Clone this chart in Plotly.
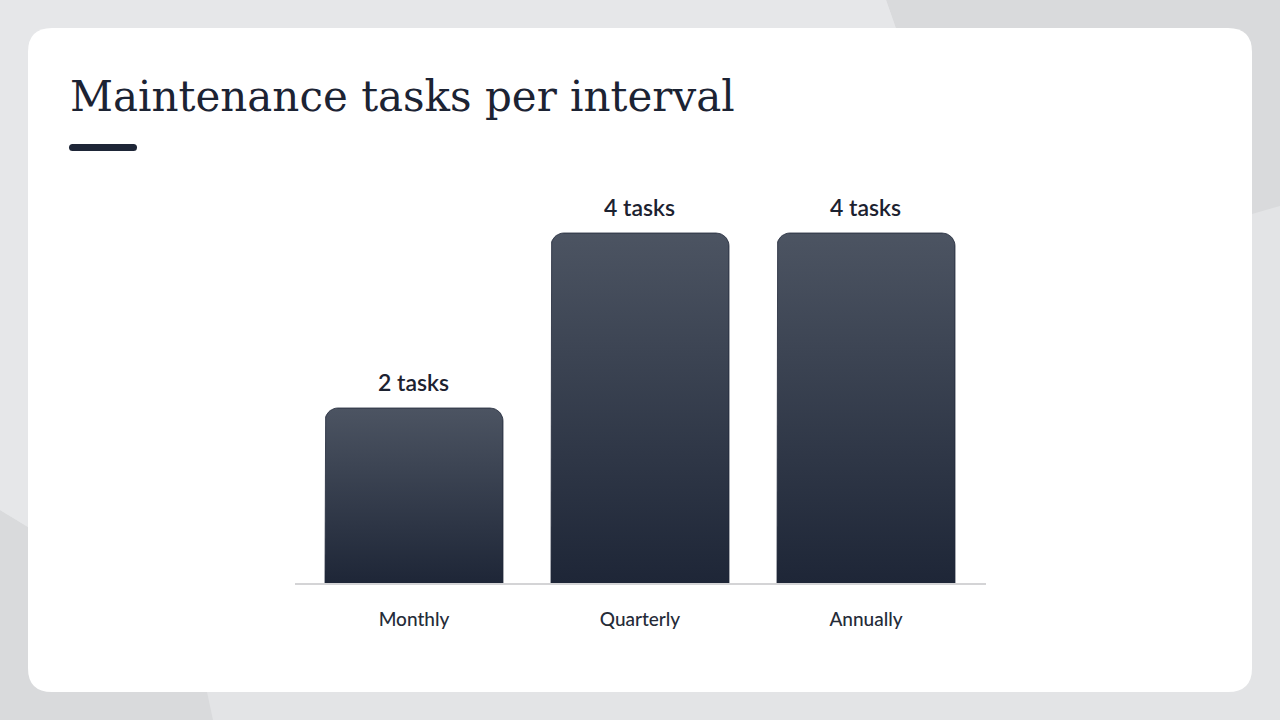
import math
import plotly.graph_objects as go

categories = ["Monthly", "Quarterly", "Annually"]
task_counts = [2, 4, 4]
value_labels = ["2 tasks", "4 tasks", "4 tasks"]
title_text = "Maintenance tasks per interval"

W, H = 1280, 720
ML, MR, MT, MB = 295, 294, 180, 137
PW, PH = W - ML - MR, H - MT - MB
X0, X1 = -0.5265, 2.531
Y0, Y1 = 0, PH / 87.5
PX_PER_X = PW / (X1 - X0)
PX_PER_Y = PH / (Y1 - Y0)

def px(x):
    return (x - ML) / PW

def py(y):
    return (H - MB - y) / PH

fig = go.Figure()

# bars as gradient-filled rounded shapes, built from data values on the library axes
half_w = 89 / PX_PER_X
R = 13
rx, ry = R / PX_PER_X, R / PX_PER_Y
for i, (cat, v) in enumerate(zip(categories, task_counts)):
    xs, ys = [i - half_w], [0]
    n = 10
    for k in range(n + 1):
        a = math.pi - (math.pi / 2) * k / n
        xs.append(i - half_w + rx + rx * math.cos(a))
        ys.append(v - ry + ry * math.sin(a))
    for k in range(n + 1):
        a = math.pi / 2 - (math.pi / 2) * k / n
        xs.append(i + half_w - rx + rx * math.cos(a))
        ys.append(v - ry + ry * math.sin(a))
    xs.append(i + half_w); ys.append(0)
    xs.append(i - half_w); ys.append(0)
    fig.add_trace(go.Scatter(
        x=xs, y=ys, mode="lines", fill="toself",
        line=dict(width=0.8, color="#1f2738"),
        fillgradient=dict(type="vertical",
                          colorscale=[[0, "#1e2637"], [1, "#4c5462"]]),
        hoverinfo="skip", showlegend=False, name=cat,
    ))

for i, (v, lab) in enumerate(zip(task_counts, value_labels)):
    fig.add_annotation(x=i, y=v, text=lab, showarrow=False, yanchor="bottom",
                       yshift=10, font=dict(family="Lato", size=23, color="#1c2230", weight=600))

shapes = []
# background shapes
shapes.append(dict(type="path", xref="paper", yref="paper", layer="below",
                   path=f"M {px(886)},{py(0)} L {px(1280)},{py(0)} L {px(1280)},{py(206)} L {px(1252)},{py(214)} L {px(980)},{py(300)} L {px(900)},{py(40)} Z",
                   fillcolor="#d9dadc", line=dict(width=0)))
shapes.append(dict(type="path", xref="paper", yref="paper", layer="below",
                   path=f"M {px(0)},{py(510)} L {px(28)},{py(527)} L {px(207)},{py(692)} L {px(213)},{py(720)} L {px(0)},{py(720)} Z",
                   fillcolor="#d9dadc", line=dict(width=0)))
shapes.append(dict(type="path", xref="paper", yref="paper", layer="below",
                   path=f"M {px(0)},{py(0)} L {px(886)},{py(0)} L {px(900)},{py(40)} L {px(28)},{py(527)} L {px(0)},{py(510)} Z",
                   fillcolor="#e6e7e9", line=dict(width=0)))

# card
cx0, cy0, cx1, cy1, cr = 28, 28, 1252, 692, 24
card = (f"M {px(cx0+cr)},{py(cy0)} L {px(cx1-cr)},{py(cy0)} Q {px(cx1)},{py(cy0)} {px(cx1)},{py(cy0+cr)} "
        f"L {px(cx1)},{py(cy1-cr)} Q {px(cx1)},{py(cy1)} {px(cx1-cr)},{py(cy1)} "
        f"L {px(cx0+cr)},{py(cy1)} Q {px(cx0)},{py(cy1)} {px(cx0)},{py(cy1-cr)} "
        f"L {px(cx0)},{py(cy0+cr)} Q {px(cx0)},{py(cy0)} {px(cx0+cr)},{py(cy0)} Z")
shapes.append(dict(type="path", xref="paper", yref="paper", layer="below",
                   path=card, fillcolor="#ffffff", line=dict(width=0)))

# accent underline
ux0, uy0, ux1, uy1, ur = 69, 144, 137, 151, 3.5
uline = (f"M {px(ux0+ur)},{py(uy0)} L {px(ux1-ur)},{py(uy0)} Q {px(ux1)},{py(uy0)} {px(ux1)},{py(uy0+ur)} "
         f"Q {px(ux1)},{py(uy1)} {px(ux1-ur)},{py(uy1)} L {px(ux0+ur)},{py(uy1)} "
         f"Q {px(ux0)},{py(uy1)} {px(ux0)},{py(uy1-ur)} Q {px(ux0)},{py(uy0)} {px(ux0+ur)},{py(uy0)} Z")
shapes.append(dict(type="path", xref="paper", yref="paper", path=uline,
                   fillcolor="#1e2637", line=dict(width=0)))

fig.add_annotation(xref="paper", yref="paper", x=px(68), y=py(97), xanchor="left", yanchor="middle",
                   text=title_text, showarrow=False,
                   font=dict(family="DejaVu Serif", size=42, color="#1c2333"))

fig.update_layout(
    width=W, height=H, autosize=False,
    margin=dict(l=ML, r=MR, t=MT, b=MB, pad=0),
    paper_bgcolor="#e3e4e6", plot_bgcolor="rgba(0,0,0,0)",
    shapes=shapes, showlegend=False,
    xaxis=dict(range=[X0, X1], tickvals=list(range(len(categories))), ticktext=categories,
               showgrid=False, zeroline=False, showline=True, linecolor="#d4d4d6", linewidth=1.5,
               ticks="", ticklabelstandoff=18,
               tickfont=dict(family="Lato", size=19, color="#252b38", weight=500), fixedrange=True),
    yaxis=dict(range=[Y0, Y1], visible=False, fixedrange=True),
)

fig.write_html("out.html", config={"displayModeBar": False},
               post_script="document.body.style.margin='0';document.body.style.overflow='hidden';")
